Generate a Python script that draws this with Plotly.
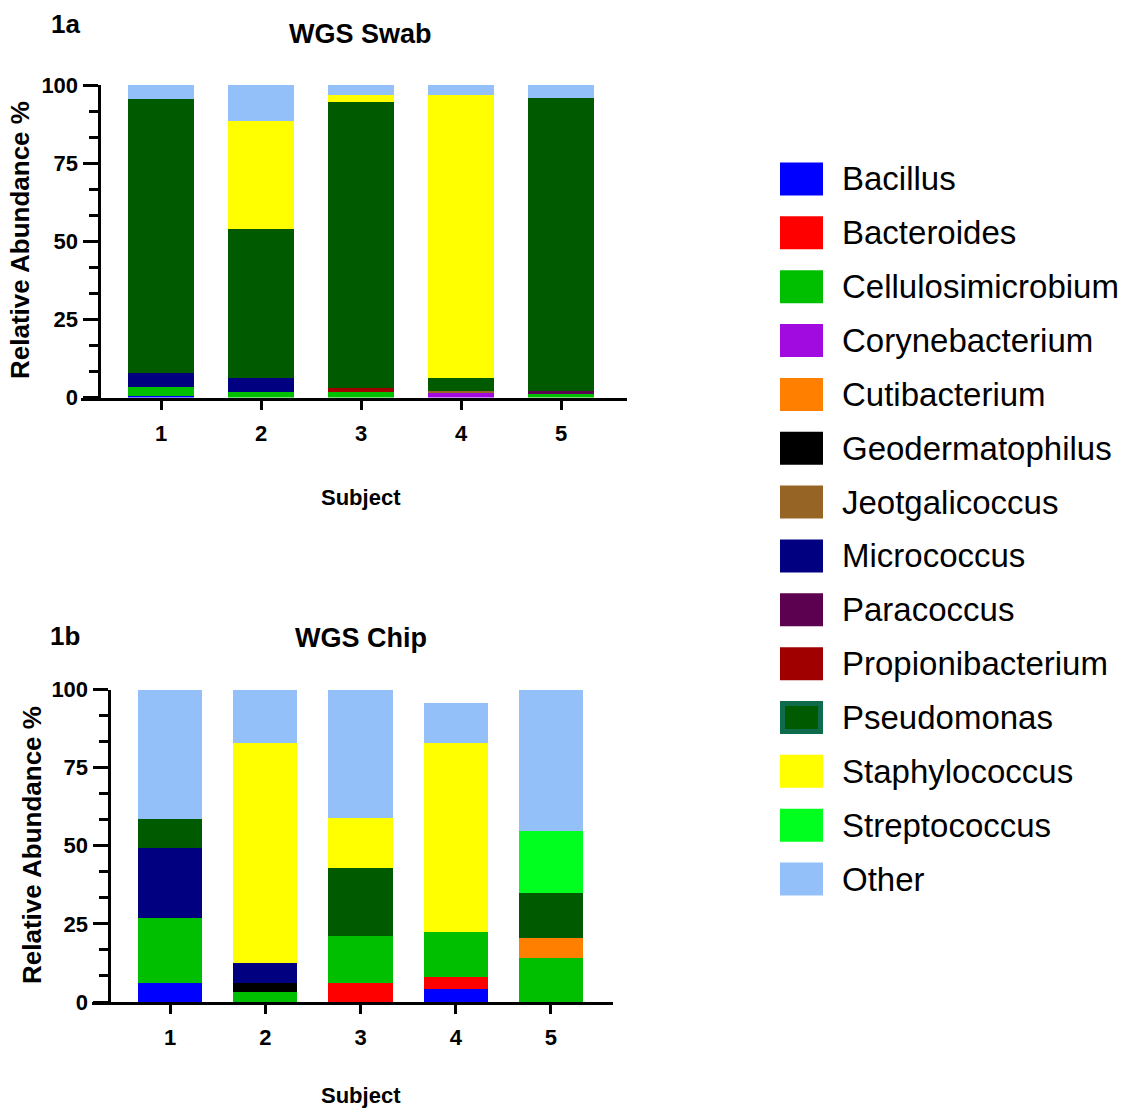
import plotly.graph_objects as go

W, H = 1121, 1108

subjects = [1, 2, 3, 4, 5]
genera = ["Bacillus", "Bacteroides", "Cellulosimicrobium", "Corynebacterium",
          "Cutibacterium", "Geodermatophilus", "Jeotgalicoccus", "Micrococcus",
          "Paracoccus", "Propionibacterium", "Pseudomonas", "Staphylococcus",
          "Streptococcus", "Other"]
colors = ["#0000FF", "#FF0000", "#00BF00", "#A20BE0", "#FF8000", "#000000",
          "#966424", "#000080", "#5C0050", "#A00000", "#005A00", "#FFFF00",
          "#00FF1E", "#94C0F9"]

# WGS Swab (% relative abundance per subject)
swab_bacillus = [0.5, 0, 0, 0, 0]
swab_bacteroides = [0, 0, 0, 0, 0]
swab_cellulosimicrobium = [2.8, 1.7, 1.7, 0, 1.0]
swab_corynebacterium = [0, 0, 0, 1.3, 0]
swab_cutibacterium = [0, 0, 0, 0, 0]
swab_geodermatophilus = [0, 0, 0, 0, 0]
swab_jeotgalicoccus = [0, 0, 0, 0.8, 0]
swab_micrococcus = [4.7, 4.6, 0, 0, 0]
swab_paracoccus = [0, 0, 0, 0, 1.0]
swab_propionibacterium = [0, 0, 1.4, 0, 0]
swab_pseudomonas = [87.4, 47.6, 91.5, 4.2, 93.8]
swab_staphylococcus = [0, 34.6, 2.2, 90.5, 0]
swab_streptococcus = [0, 0, 0, 0, 0]
swab_other = [4.6, 11.5, 3.2, 3.2, 4.2]

# WGS Chip
chip_bacillus = [6.2, 0, 0, 4.3, 0]
chip_bacteroides = [0, 0, 6.4, 3.8, 0]
chip_cellulosimicrobium = [21.0, 3.3, 15.0, 14.6, 14.4]
chip_corynebacterium = [0, 0, 0, 0, 0]
chip_cutibacterium = [0, 0, 0, 0, 6.1]
chip_geodermatophilus = [0, 2.9, 0, 0, 0]
chip_jeotgalicoccus = [0, 0, 0, 0, 0]
chip_micrococcus = [22.4, 6.4, 0, 0, 0]
chip_paracoccus = [0, 0, 0, 0, 0]
chip_propionibacterium = [0, 0, 0, 0, 0]
chip_pseudomonas = [9.0, 0, 21.8, 0, 14.7]
chip_staphylococcus = [0, 70.3, 15.7, 60.2, 0]
chip_streptococcus = [0, 0, 0, 0, 19.8]
chip_other = [41.4, 17.1, 41.1, 13.1, 45.0]

swab = [swab_bacillus, swab_bacteroides, swab_cellulosimicrobium, swab_corynebacterium,
        swab_cutibacterium, swab_geodermatophilus, swab_jeotgalicoccus, swab_micrococcus,
        swab_paracoccus, swab_propionibacterium, swab_pseudomonas, swab_staphylococcus,
        swab_streptococcus, swab_other]
chip = [chip_bacillus, chip_bacteroides, chip_cellulosimicrobium, chip_corynebacterium,
        chip_cutibacterium, chip_geodermatophilus, chip_jeotgalicoccus, chip_micrococcus,
        chip_paracoccus, chip_propionibacterium, chip_pseudomonas, chip_staphylococcus,
        chip_streptococcus, chip_other]

y_ticks = [0, 25, 50, 75, 100]

FONT = "Liberation Sans, Arial, sans-serif"


def px(x):
    return x / W


def py(y):
    return 1 - y / H


fig = go.Figure()

for name, col, vals in zip(genera, colors, swab):
    fig.add_trace(go.Bar(x=subjects, y=vals, name=name, marker_color=col,
                         marker_line_width=0, width=0.66, xaxis="x", yaxis="y",
                         showlegend=False))
for name, col, vals in zip(genera, colors, chip):
    fig.add_trace(go.Bar(x=subjects, y=vals, name=name, marker_color=col,
                         marker_line_width=0, width=0.676, xaxis="x2", yaxis="y2",
                         showlegend=False))

tickfont = dict(family=FONT, size=22, color="black", weight="bold")

xcommon = dict(tickmode="array", tickvals=subjects, ticktext=[str(s) for s in subjects],
               ticks="outside", ticklen=9, tickwidth=3, tickcolor="black",
               showline=True, linewidth=3, linecolor="black", showgrid=False,
               zeroline=False, tickfont=tickfont, automargin=False,
               ticklabelstandoff=5)
ycommon = dict(range=[0, 100], tickmode="array", tickvals=y_ticks,
               ticks="outside", ticklen=15, tickwidth=3, tickcolor="black",
               showline=True, linewidth=3, linecolor="black", showgrid=False,
               zeroline=False, tickfont=tickfont, automargin=False,
               minor=dict(dtick=25 / 3, tick0=0, ticks="outside", ticklen=9,
                          tickwidth=3, tickcolor="black", showgrid=False))

fig.update_layout(
    template="none",
    width=W, height=H, autosize=False, margin=dict(l=0, r=0, t=0, b=0, pad=0, autoexpand=False),
    paper_bgcolor="white", plot_bgcolor="white", barmode="stack", bargap=0,
    showlegend=False,
    xaxis=dict(domain=[px(81), px(627)], range=[0.2, 5.66], anchor="y", **xcommon),
    yaxis=dict(domain=[py(397.5), py(85)], anchor="free", position=px(98.5), **ycommon),
    xaxis2=dict(domain=[px(92), px(613)], range=[0.181, 5.651], anchor="y2", **xcommon),
    yaxis2=dict(domain=[py(1002), py(689.5)], anchor="free", position=px(108.5), **ycommon),
)

ann = []
bold = lambda s: dict(family=FONT, size=s, color="black", weight="bold")
ann.append(dict(text="1a", x=px(65), y=py(24), font=bold(26)))
ann.append(dict(text="WGS Swab", x=px(361), y=py(34), font=bold(27)))
ann.append(dict(text="Relative Abundance %", x=px(20), y=py(240), font=bold(26), textangle=-90))
ann.append(dict(text="Subject", x=px(361), y=py(498), font=bold(22)))
ann.append(dict(text="1b", x=px(65), y=py(636), font=bold(26)))
ann.append(dict(text="WGS Chip", x=px(361), y=py(638), font=bold(27)))
ann.append(dict(text="Relative Abundance %", x=px(32), y=py(845), font=bold(26), textangle=-90))
ann.append(dict(text="Subject", x=px(361), y=py(1095), font=bold(22)))

shapes = []
for i, (name, col) in enumerate(zip(genera, colors)):
    cy = 179 + i * 53.85
    if name == "Pseudomonas":
        shapes.append(dict(type="rect", xref="paper", yref="paper",
                           x0=px(782.5), x1=px(820.5), y0=py(cy - 14), y1=py(cy + 14),
                           fillcolor=col, line=dict(color="#0E6B4C", width=5)))
    else:
        shapes.append(dict(type="rect", xref="paper", yref="paper",
                           x0=px(780), x1=px(823), y0=py(cy - 16.5), y1=py(cy + 16.5),
                           fillcolor=col, line=dict(width=0)))
    ann.append(dict(text=name, x=px(840), y=py(cy), xanchor="left",
                    font=dict(family=FONT, size=33, color="black")))

for a in ann:
    a.setdefault("xref", "paper")
    a.setdefault("yref", "paper")
    a.setdefault("showarrow", False)
    a.setdefault("xanchor", "center")
    a.setdefault("yanchor", "middle")

fig.update_layout(annotations=ann, shapes=shapes)
fig.write_html("out.html")
